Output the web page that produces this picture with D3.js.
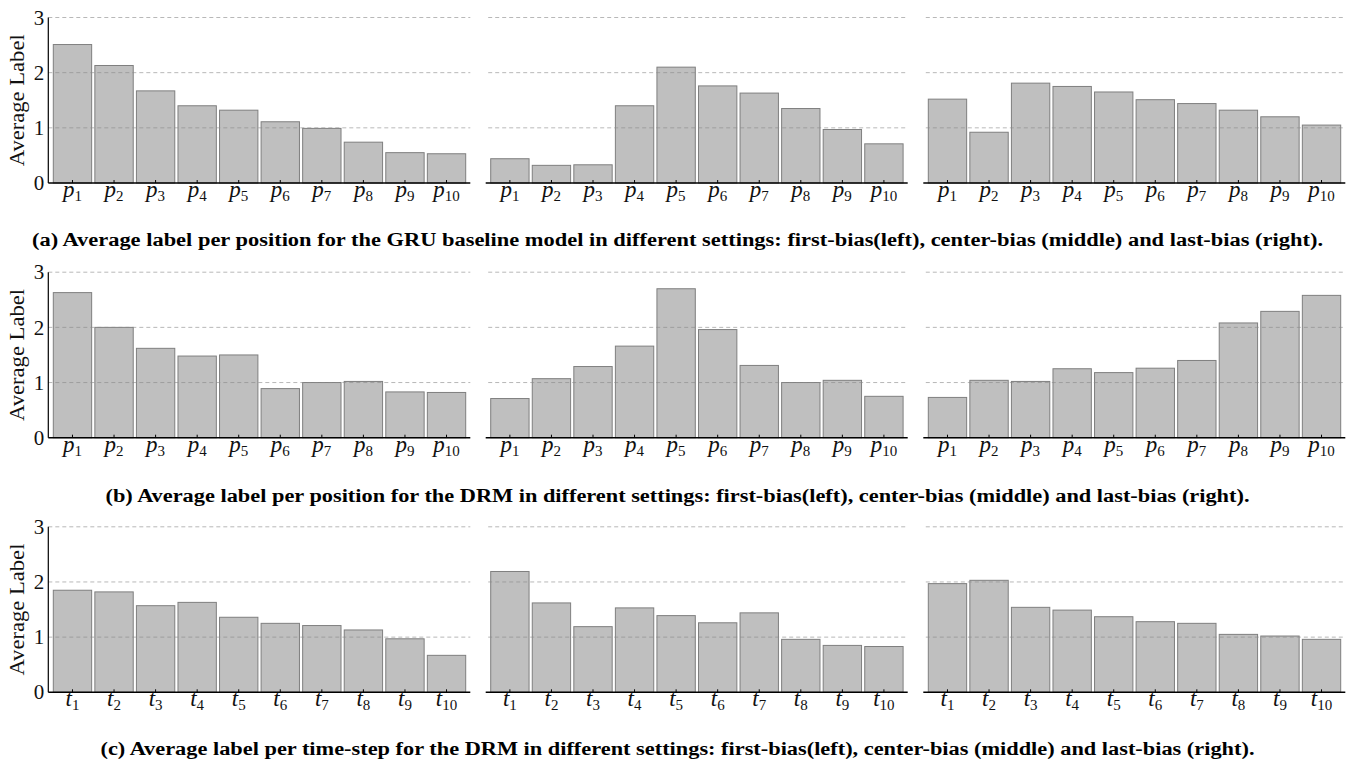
<!DOCTYPE html>
<html>
<head>
<meta charset="utf-8">
<script src="https://cdn.jsdelivr.net/npm/d3@7"></script>
<style>
  html, body { margin: 0; padding: 0; background: #fff; }
  svg { display: block; }
  svg text { font-family: "Liberation Serif", "Times New Roman", Times, serif; }
</style>
</head>
<body>
<svg id="chart" width="1351" height="761"></svg>
<script>
// ---- data ----
const positionTicks = ["p1","p2","p3","p4","p5","p6","p7","p8","p9","p10"];
const timeTicks = ["t1","t2","t3","t4","t5","t6","t7","t8","t9","t10"];
const yTicks = [0, 1, 2, 3];

const gruFirst  = [2.51, 2.13, 1.67, 1.40, 1.32, 1.11, 0.99, 0.74, 0.55, 0.53];
const gruCenter = [0.44, 0.32, 0.33, 1.40, 2.10, 1.76, 1.63, 1.35, 0.97, 0.71];
const gruLast   = [1.52, 0.92, 1.81, 1.75, 1.65, 1.51, 1.44, 1.32, 1.20, 1.05];

const drmPosFirst  = [2.63, 2.00, 1.62, 1.48, 1.50, 0.89, 1.00, 1.02, 0.83, 0.82];
const drmPosCenter = [0.71, 1.07, 1.29, 1.66, 2.70, 1.96, 1.31, 1.00, 1.04, 0.75];
const drmPosLast   = [0.73, 1.04, 1.02, 1.25, 1.18, 1.26, 1.40, 2.08, 2.29, 2.58];

const drmTimeFirst  = [1.85, 1.82, 1.57, 1.63, 1.36, 1.25, 1.21, 1.13, 0.97, 0.67];
const drmTimeCenter = [2.19, 1.62, 1.19, 1.53, 1.39, 1.26, 1.44, 0.96, 0.85, 0.83];
const drmTimeLast   = [1.97, 2.03, 1.54, 1.49, 1.37, 1.28, 1.25, 1.05, 1.02, 0.96];

const captions = [
  "(a) Average label per position for the GRU baseline model in different settings: first-bias(left), center-bias (middle) and last-bias (right).",
  "(b) Average label per position for the DRM in different settings: first-bias(left), center-bias (middle) and last-bias (right).",
  "(c) Average label per time-step for the DRM in different settings: first-bias(left), center-bias (middle) and last-bias (right)."
];
const yAxisTitle = "Average Label";

const rows = [
  { ticks: positionTicks, series: [gruFirst, gruCenter, gruLast] },
  { ticks: positionTicks, series: [drmPosFirst, drmPosCenter, drmPosLast] },
  { ticks: timeTicks, series: [drmTimeFirst, drmTimeCenter, drmTimeLast] }
];

// ---- layout ----
const colX = [48.3, 485.7, 923.3];
const panelW = 422;
const rowY0 = [183, 437.7, 692.3];
const plotH = 165.5;
const captionY = [245.5, 501.5, 755];
const captionW = [1291, 1144, 1154];
const captionCX = 677.5;

const svg = d3.select("#chart");

rows.forEach((row, ri) => {
  const y0 = rowY0[ri];
  const y = d3.scaleLinear().domain([0, 3]).range([y0, y0 - plotH]);

  row.series.forEach((vals, ci) => {
    const x0 = colX[ci];
    const x = d3.scaleBand().domain(row.ticks)
      .range([x0 + 5, x0 + 417.4]).paddingInner(0.077).paddingOuter(0);
    const g = svg.append("g");

    // bars
    g.selectAll("rect.bar").data(vals).join("rect")
      .attr("class", "bar")
      .attr("x", (d, i) => x(row.ticks[i]))
      .attr("y", d => y(d))
      .attr("width", x.bandwidth())
      .attr("height", d => y(0) - y(d))
      .attr("fill", "#bfbfbf")
      .attr("stroke", "#7f7f7f")
      .attr("stroke-width", 1);

    // gridlines (drawn over bars)
    const gx0 = ci === 0 ? x0 : x0 + 2.5;
    g.selectAll("line.grid").data(yTicks.slice(1)).join("line")
      .attr("class", "grid")
      .attr("x1", gx0).attr("x2", x0 + panelW)
      .attr("y1", d => y(d)).attr("y2", d => y(d))
      .attr("stroke", "#888")
      .attr("stroke-opacity", 0.6)
      .attr("stroke-width", 1)
      .attr("stroke-dasharray", "4,3");

    // x axis line + inward ticks
    g.append("line")
      .attr("x1", x0).attr("x2", x0 + panelW)
      .attr("y1", y0).attr("y2", y0)
      .attr("stroke", "#000").attr("stroke-width", 1.4);
    g.selectAll("line.xtick").data(row.ticks).join("line")
      .attr("class", "xtick")
      .attr("x1", d => x(d) + x.bandwidth() / 2)
      .attr("x2", d => x(d) + x.bandwidth() / 2)
      .attr("y1", y0).attr("y2", y0 - 3)
      .attr("stroke", "#000").attr("stroke-width", 1);

    // tick labels
    const lbl = g.selectAll("text.xl").data(row.ticks).join("text")
      .attr("class", "xl")
      .attr("x", d => x(d) + x.bandwidth() / 2)
      .attr("y", y0 + 14)
      .attr("text-anchor", "middle")
      .attr("fill", "#111");
    lbl.append("tspan")
      .style("font-style", "italic")
      .style("font-size", "23px")
      .text(d => d[0]);
    lbl.append("tspan")
      .style("font-size", "15px")
      .attr("dy", 4)
      .text(d => d.slice(1));

    // y axis (first column only)
    if (ci === 0) {
      g.append("line")
        .attr("x1", x0).attr("x2", x0)
        .attr("y1", y(3)).attr("y2", y0)
        .attr("stroke", "#000").attr("stroke-width", 1.2);
      g.selectAll("text.yl").data(yTicks).join("text")
        .attr("class", "yl")
        .attr("x", x0 - 4)
        .attr("y", d => y(d))
        .attr("dy", "0.34em")
        .attr("text-anchor", "end")
        .style("font-size", "21px")
        .attr("fill", "#111")
        .text(d => d);
      g.append("text")
        .attr("transform", `translate(24,${(y(0) + y(3)) / 2}) rotate(-90)`)
        .attr("text-anchor", "middle")
        .style("font-size", "22px")
        .attr("fill", "#111")
        .attr("textLength", 132)
        .attr("lengthAdjust", "spacingAndGlyphs")
        .text(yAxisTitle);
    }
  });

  // caption
  svg.append("text")
    .attr("x", captionCX)
    .attr("y", captionY[ri])
    .attr("text-anchor", "middle")
    .style("font-weight", "bold")
    .style("font-size", "18px")
    .attr("fill", "#000")
    .attr("textLength", captionW[ri])
    .attr("lengthAdjust", "spacingAndGlyphs")
    .text(captions[ri]);
});
</script>
</body>
</html>
